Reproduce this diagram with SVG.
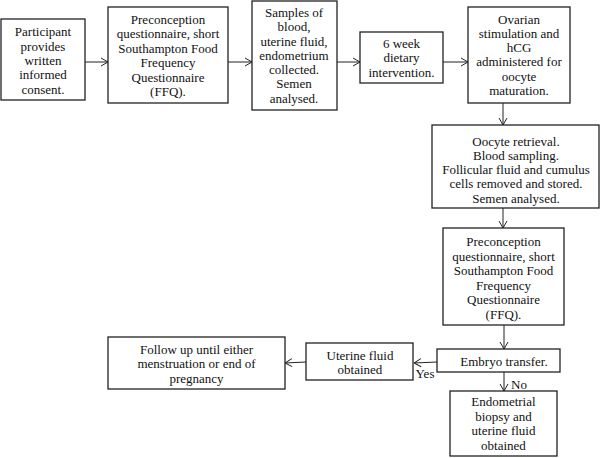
<svg xmlns="http://www.w3.org/2000/svg" width="600" height="458" viewBox="0 0 600 458">
<defs>
<style>
rect{fill:#fff;stroke:#222;stroke-width:1.3}
text{font-family:"Liberation Serif","Times New Roman",serif;font-size:13px;fill:#111;text-anchor:middle}
.c line{stroke:#222;stroke-width:1}
</style>
<marker id="ah" viewBox="0 0 10 10" refX="10" refY="5" markerWidth="10" markerHeight="10" markerUnits="userSpaceOnUse" orient="auto">
<polyline points="3,1 10,5 3,9" fill="none" stroke="#222" stroke-width="1"/>
</marker>
</defs>
<rect width="600" height="458" style="fill:#fff;stroke:none"/>
<g class="c" id="connectors">
<line x1="85" y1="62" x2="108" y2="62" marker-end="url(#ah)"/>
<line x1="228" y1="62" x2="252" y2="62" marker-end="url(#ah)"/>
<line x1="337" y1="62" x2="360" y2="62" marker-end="url(#ah)"/>
<line x1="443" y1="62" x2="468" y2="62" marker-end="url(#ah)"/>
<line x1="503" y1="103" x2="503" y2="125" marker-end="url(#ah)"/>
<line x1="503" y1="208" x2="503" y2="228" marker-end="url(#ah)"/>
<line x1="504" y1="325" x2="504" y2="349" marker-end="url(#ah)"/>
<line x1="437" y1="362" x2="414" y2="363" marker-end="url(#ah)"/>
<line x1="306" y1="362" x2="285" y2="363" marker-end="url(#ah)"/>
<line x1="504" y1="372" x2="504" y2="391" marker-end="url(#ah)"/>
<text x="425" y="378">Yes</text>
<text x="519" y="389">No</text>
</g>
<g id="n1"><rect x="1" y="19" width="84" height="81"/>
<text x="43" y="36">Participant</text><text x="43" y="50.5">provides</text><text x="43" y="65">written</text><text x="43" y="79">informed</text><text x="43" y="93.5">consent.</text></g>
<g id="n2"><rect x="108" y="7" width="120" height="96"/>
<text x="168" y="23.5">Preconception</text><text x="168" y="38">questionnaire, short</text><text x="168" y="52.5">Southampton Food</text><text x="168" y="67">Frequency</text><text x="168" y="81.5">Questionnaire</text><text x="168" y="96">(FFQ).</text></g>
<g id="n3"><rect x="252" y="1" width="85" height="109"/>
<text x="294" y="17">Samples of</text><text x="294" y="31.2">blood,</text><text x="294" y="45.5">uterine fluid,</text><text x="294" y="59.7">endometrium</text><text x="294" y="74">collected.</text><text x="294" y="88.2">Semen</text><text x="294" y="102.5">analysed.</text></g>
<g id="n4"><rect x="360" y="32" width="83" height="51"/>
<text x="401.5" y="47.5">6 week</text><text x="401.5" y="62.2">dietary</text><text x="401.5" y="77">intervention.</text></g>
<g id="n5"><rect x="468" y="7" width="102" height="96"/>
<text x="519" y="23.5">Ovarian</text><text x="519" y="37.8">stimulation and</text><text x="519" y="52.1">hCG</text><text x="519" y="66.4">administered for</text><text x="519" y="80.7">oocyte</text><text x="519" y="95">maturation.</text></g>
<g id="n6"><rect x="432" y="125" width="167" height="83"/>
<text x="516" y="146">Oocyte retrieval.</text><text x="516" y="160.1">Blood sampling.</text><text x="516" y="174.2">Follicular fluid and cumulus</text><text x="516" y="188.3">cells removed and stored.</text><text x="516" y="202.5">Semen analysed.</text></g>
<g id="n7"><rect x="443" y="228" width="121" height="97"/>
<text x="503.5" y="246">Preconception</text><text x="503.5" y="260.5">questionnaire, short</text><text x="503.5" y="275">Southampton Food</text><text x="503.5" y="289.5">Frequency</text><text x="503.5" y="304">Questionnaire</text><text x="503.5" y="318.5">(FFQ).</text></g>
<g id="n8"><rect x="437" y="349" width="123" height="23"/>
<text x="504" y="365.5">Embryo transfer.</text></g>
<g id="n9"><rect x="306" y="343" width="107" height="37"/>
<text x="360" y="359.5">Uterine fluid</text><text x="360" y="373.5">obtained</text></g>
<g id="n10"><rect x="108" y="337" width="177" height="52"/>
<text x="196.5" y="353.5">Follow up until either</text><text x="196.5" y="367.5">menstruation or end of</text><text x="196.5" y="382.5">pregnancy</text></g>
<g id="n11"><rect x="450" y="391" width="107" height="65"/>
<text x="503.5" y="406">Endometrial</text><text x="503.5" y="420.7">biopsy and</text><text x="503.5" y="435.4">uterine fluid</text><text x="503.5" y="450">obtained</text></g>
</svg>
